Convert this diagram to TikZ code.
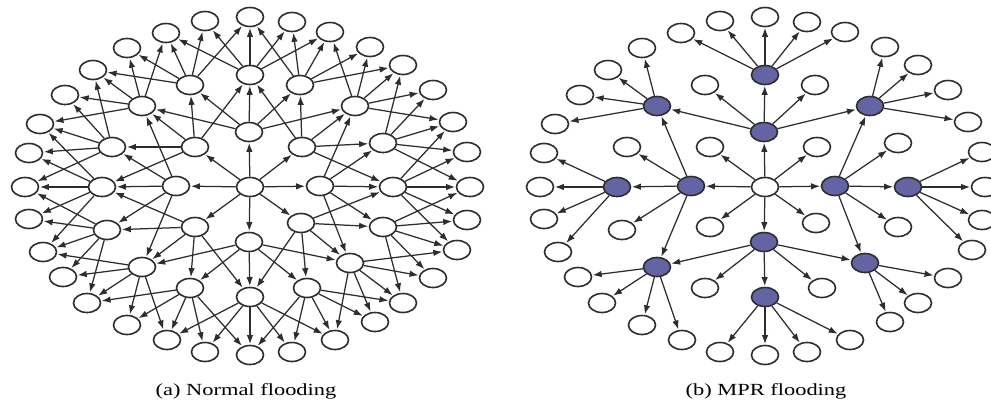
\documentclass[tikz,border=0pt]{standalone}
\usepackage{fontspec}
\setmainfont{Liberation Serif}
\usetikzlibrary{shapes.geometric,arrows.meta,backgrounds}

\definecolor{linecol}{RGB}{45,45,45}
\definecolor{mprblue}{RGB}{100,100,165}

\tikzset{
  host/.style={ellipse, draw=linecol, line width=1.6pt, fill=white,
               minimum width=27pt, minimum height=19pt, inner sep=0pt},
  relay/.style={host, fill=mprblue},
  % parity-dependent styles: in the MPR panel the even-indexed hosts relay
  a-k0/.style={host}, a-k1/.style={host},
  b-k0/.style={relay}, b-k1/.style={host},
  flow/.style={draw=linecol, line width=1.25pt,
               -{Latex[length=9pt,width=6.5pt]}, shorten >=0.6pt},
  caption/.style={font=\fontsize{17}{17}\selectfont, anchor=base, text=black},
}

\begin{document}
\begin{tikzpicture}[x=1pt,y=-1pt]
\useasboundingbox (0,0) rectangle (991,405);

% hosts of both panels: centre, inner ring (8), middle ring (16), outer ring (32)
\foreach \p/\dx in {a/0,b/515}{
  \node[host] (\p-c) at (250+\dx,187) {};
  \foreach \x/\y [count=\k from 0] in
    {249/132,302/147,320/186,301/223,249/242,195/227,176/186,195/147}{
    \pgfmathtruncatemacro\kpar{mod(\k,2)}
    \node[\p-k\kpar] (\p-i\k) at (\x+\dx,\y) {};
  }
  \foreach \x/\y [count=\k from 0] in
    {250/75,300/85,355/106,383/143,393/187,383/227,350/263,307/288,
     250/297,190/288,142/267,107/230,102/187,112/147,142/106,190/85}{
    \pgfmathtruncatemacro\kpar{mod(\k,2)}
    \node[\p-k\kpar] (\p-m\k) at (\x+\dx,\y) {};
  }
  \foreach \x/\y [count=\k from 0] in
    {250/17,292/22,330/32,370/47,403/65,433/90,453/122,467/152,
     470/187,467/220,457/250,433/278,403/303,375/322,335/340,292/352,
     250/355,205/352,167/340,127/325,87/303,63/277,43/252,29/219,
     25/187,29/153,40/124,65/95,93/70,127/48,166/33,205/21}{
    \node[host] (\p-o\k) at (\x+\dx,\y) {};
  }
}

\begin{scope}[on background layer]
  \fill[white] (0,0) rectangle (991,405);

  % (a) normal flooding: every host forwards to its neighbours one ring further out
  \foreach \k in {0,...,7}{
    \draw[flow] (a-c) -- (a-i\k);
    \foreach \d in {-2,...,2}{
      \pgfmathtruncatemacro\j{mod(2*\k+\d+16,16)}
      \draw[flow] (a-i\k) -- (a-m\j);
    }
  }
  \foreach \k in {0,...,15}{
    \foreach \d in {-2,...,2}{
      \pgfmathtruncatemacro\j{mod(2*\k+\d+32,32)}
      \draw[flow] (a-m\k) -- (a-o\j);
    }
  }

  % (b) MPR flooding: only the relays retransmit
  \foreach \k in {0,...,7}{
    \draw[flow] (b-c) -- (b-i\k);
  }
  \foreach \k in {0,2,4,6}{
    \foreach \d in {-2,...,2}{
      \pgfmathtruncatemacro\j{mod(2*\k+\d+16,16)}
      \draw[flow] (b-i\k) -- (b-m\j);
    }
  }
  \foreach \m/\targets in {0/{30,31,0,1,2},2/{3,4,5,6},4/{7,8,9,10},
      6/{11,12,13},8/{14,15,16,17},10/{18,19,20,21},12/{22,23,24,25},
      14/{26,27,28,29}}{
    \foreach \t in \targets{
      \draw[flow] (b-m\m) -- (b-o\t);
    }
  }
\end{scope}

\node[caption] (capa) at (246,395) {\scalebox{1.32}[1]{(a) Normal flooding}};
\node[caption] (capb) at (766,395) {\scalebox{1.32}[1]{(b) MPR flooding}};
\end{tikzpicture}
\end{document}
